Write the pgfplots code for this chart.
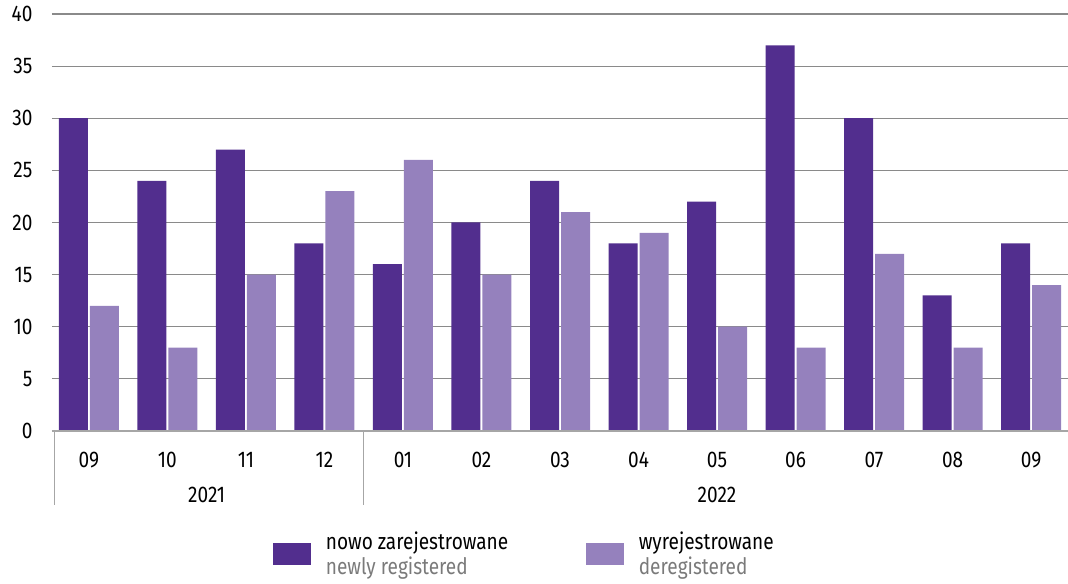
\documentclass[border=0pt]{standalone}
\usepackage{pgfplots}
\pgfplotsset{compat=1.18}
\usepackage{fontspec}
\setmainfont{Fira Sans}[FakeStretch=0.84]

\definecolor{newreg}{HTML}{522E8E}
\definecolor{dereg}{HTML}{9581BD}
\definecolor{gridgray}{HTML}{8A8A8A}
\definecolor{zerogray}{HTML}{A6A6A6}
\definecolor{subgray}{HTML}{7A7A7A}

\begin{document}
\begin{tikzpicture}[font=\fontsize{17}{19}\selectfont]
\begin{axis}[
    name=ax,
    scale only axis,
    width=762pt, height=312.75pt,
    ybar=1.5pt, bar width=21.75pt,
    xmin=-0.47, xmax=12.47,
    ymin=0, ymax=40,
    enlargelimits=false,
    clip=false,
    ytick={0,5,...,40},
    xtick={0,...,12},
    xticklabels={09,10,11,12,01,02,03,04,05,06,07,08,09},
    ymajorgrids,
    grid style={gridgray, line width=0.9pt},
    axis line style={draw=none},
    tick style={draw=none},
    major tick length=0pt,
    /pgf/number format/assume math mode=true,
    yticklabel style={inner sep=0pt, xshift=-14.5pt},
    xticklabel style={anchor=center, inner sep=0pt, yshift=-21.75pt},
    legend columns=2,
    legend cell align=left,
    legend style={at={(0.465,-0.295)}, anchor=center, draw=none, fill=none,
        cells={anchor=west, align=left},
        /tikz/every odd column/.append style={column sep=9pt},
        /tikz/every even column/.append style={column sep=56pt}},
]

\addplot[fill=newreg, draw=none,
    legend image code/.code={\fill[newreg] (0pt,-8.5pt) rectangle (29pt,8.5pt);}]
coordinates {
(0,30) (1,24) (2,27) (3,18) (4,16) (5,20) (6,24) (7,18) (8,22) (9,37) (10,30) (11,13) (12,18)
};
\addlegendentry{nowo zarejestrowane\\\textcolor{subgray}{newly registered}}

\addplot[fill=dereg, draw=none,
    legend image code/.code={\fill[dereg] (0pt,-8.5pt) rectangle (29pt,8.5pt);}]
coordinates {
(0,12) (1,8) (2,15) (3,23) (4,26) (5,15) (6,21) (7,19) (8,10) (9,8) (10,17) (11,8) (12,14)
};
\addlegendentry{wyrejestrowane\\\textcolor{subgray}{deregistered}}

% zero line and year separators
\draw[zerogray, line width=1.4pt] (axis cs:-0.47,0) -- (axis cs:12.47,0);
\draw[zerogray, line width=1pt] (axis cs:-0.44,0) -- ++(0pt,-55.5pt);
\draw[zerogray, line width=1pt] (axis cs:3.5,0) -- ++(0pt,-55.5pt);
\node at (axis cs:1.5,0) [yshift=-48pt] {2021};
\node at (axis cs:8,0) [yshift=-48pt] {2022};
\end{axis}
\pgfresetboundingbox
\path ([shift={(-39pt,-114.75pt)}]ax.south west) rectangle ([shift={(0pt,10.5pt)}]ax.north east);
\end{tikzpicture}
\end{document}
